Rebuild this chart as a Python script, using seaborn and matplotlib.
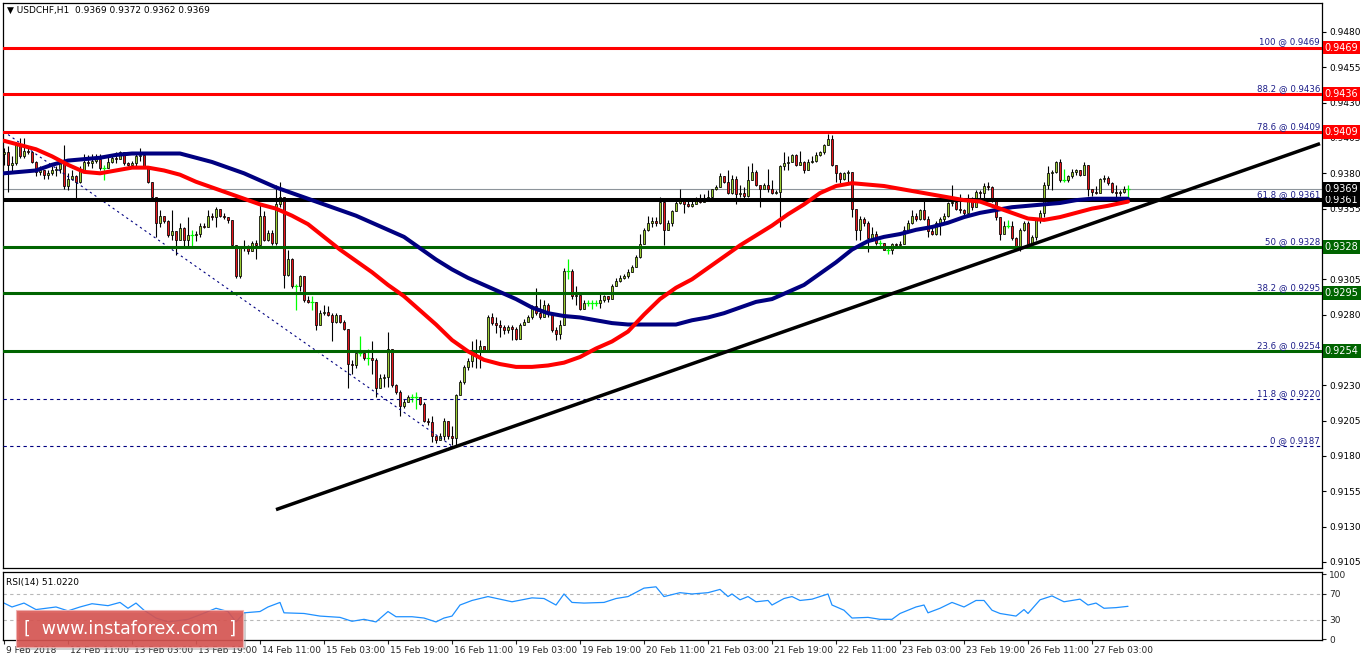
import numpy as np
import pandas as pd
import matplotlib
matplotlib.use('Agg')
import matplotlib.pyplot as plt
import matplotlib.transforms as mtransforms
from matplotlib.patches import Rectangle
import seaborn as sns

sns.set_style('white')
plt.rcParams['font.family'] = ['DejaVu Sans']

# USDCHF H1 candles (open of each bar = previous close)
first_open = 0.9394
closes = [
    0.9395, 0.9386, 0.9387, 0.9400, 0.9392, 0.9396, 0.9395, 0.9388, 0.9381, 0.9382,
    0.9379, 0.9380, 0.9382, 0.9383, 0.9387, 0.9371, 0.9376, 0.9378, 0.9374, 0.9382,
    0.9388, 0.9387, 0.9389, 0.9390, 0.9384, 0.9384, 0.9388, 0.9391, 0.9390, 0.9395,
    0.9387, 0.9386, 0.9387, 0.9392, 0.9393, 0.9385, 0.9374, 0.9363, 0.9345, 0.9350,
    0.9346, 0.9336, 0.9339, 0.9333, 0.9341, 0.9333, 0.9336, 0.9336, 0.9337, 0.9343,
    0.9342, 0.9350, 0.9349, 0.9355, 0.9350, 0.9349, 0.9347, 0.9329, 0.9307, 0.9328,
    0.9327, 0.9325, 0.9331, 0.9329, 0.9350, 0.9333, 0.9338, 0.9331, 0.9358, 0.9363,
    0.9308, 0.9319, 0.9300, 0.9300, 0.9307, 0.9290, 0.9289, 0.9289, 0.9273, 0.9281,
    0.9282, 0.9280, 0.9275, 0.9280, 0.9275, 0.9270, 0.9245, 0.9244, 0.9253, 0.9253,
    0.9249, 0.9249, 0.9248, 0.9228, 0.9235, 0.9236, 0.9256, 0.9230, 0.9225, 0.9215,
    0.9218, 0.9222, 0.9222, 0.9222, 0.9217, 0.9205, 0.9204, 0.9194, 0.9191, 0.9194,
    0.9205, 0.9194, 0.9193, 0.9223, 0.9232, 0.9243, 0.9247, 0.9255, 0.9254, 0.9258,
    0.9255, 0.9278, 0.9274, 0.9273, 0.9271, 0.9269, 0.9271, 0.9270, 0.9263, 0.9273,
    0.9275, 0.9278, 0.9286, 0.9281, 0.9278, 0.9287, 0.9281, 0.9269, 0.9266, 0.9273,
    0.9311, 0.9311, 0.9293, 0.9294, 0.9284, 0.9288, 0.9288, 0.9288, 0.9288, 0.9290,
    0.9293, 0.9291, 0.9300, 0.9304, 0.9306, 0.9307, 0.9310, 0.9314, 0.9321, 0.9330,
    0.9340, 0.9345, 0.9346, 0.9345, 0.9360, 0.9340, 0.9345, 0.9353, 0.9359, 0.9361,
    0.9358, 0.9357, 0.9358, 0.9362, 0.9360, 0.9362, 0.9363, 0.9369, 0.9370, 0.9378,
    0.9374, 0.9366, 0.9376, 0.9365, 0.9366, 0.9364, 0.9375, 0.9381, 0.9372, 0.9369,
    0.9372, 0.9369, 0.9366, 0.9367, 0.9385, 0.9387, 0.9388, 0.9393, 0.9386, 0.9388,
    0.9382, 0.9388, 0.9389, 0.9393, 0.9395, 0.9400, 0.9404, 0.9386, 0.9380, 0.9376,
    0.9380, 0.9381, 0.9355, 0.9340, 0.9348, 0.9345, 0.9334, 0.9337, 0.9331, 0.9331,
    0.9326, 0.9326, 0.9330, 0.9329, 0.9330, 0.9340, 0.9345, 0.9350, 0.9348, 0.9354,
    0.9348, 0.9339, 0.9337, 0.9345, 0.9348, 0.9350, 0.9359, 0.9360, 0.9355, 0.9354,
    0.9352, 0.9361, 0.9356, 0.9367, 0.9366, 0.9371, 0.9370, 0.9361, 0.9349, 0.9337,
    0.9343, 0.9343, 0.9334, 0.9328, 0.9340, 0.9345, 0.9330, 0.9335, 0.9347, 0.9352,
    0.9372, 0.9380, 0.9381, 0.9388, 0.9375, 0.9375, 0.9378, 0.9381, 0.9382, 0.9379,
    0.9386, 0.9369, 0.9367, 0.9366, 0.9376, 0.9377, 0.9373, 0.9367, 0.9366, 0.9367,
    0.9369, 0.9369,
]
highs = [
    0.9398, 0.9399, 0.9392, 0.9402, 0.9405, 0.9405, 0.9398, 0.9396, 0.9389, 0.9385,
    0.9382, 0.9382, 0.9385, 0.9385, 0.9389, 0.9400, 0.9380, 0.9382, 0.9379, 0.9385,
    0.9394, 0.9393, 0.9394, 0.9394, 0.9394, 0.9386, 0.9392, 0.9394, 0.9395, 0.9396,
    0.9395, 0.9388, 0.9389, 0.9395, 0.9398, 0.9391, 0.9383, 0.9374, 0.9363, 0.9354,
    0.9350, 0.9347, 0.9354, 0.9339, 0.9345, 0.9342, 0.9349, 0.9340, 0.9339, 0.9345,
    0.9345, 0.9354, 0.9352, 0.9356, 0.9355, 0.9352, 0.9349, 0.9347, 0.9328, 0.9328,
    0.9333, 0.9329, 0.9332, 0.9333, 0.9359, 0.9353, 0.9340, 0.9340, 0.9372, 0.9374,
    0.9363, 0.9326, 0.9320, 0.9302, 0.9308, 0.9307, 0.9293, 0.9293, 0.9289, 0.9283,
    0.9287, 0.9286, 0.9281, 0.9281, 0.9280, 0.9276, 0.9270, 0.9248, 0.9253, 0.9265,
    0.9253, 0.9256, 0.9261, 0.9249, 0.9238, 0.9238, 0.9268, 0.9256, 0.9231, 0.9227,
    0.9220, 0.9223, 0.9224, 0.9225, 0.9222, 0.9218, 0.9207, 0.9208, 0.9194, 0.9196,
    0.9207, 0.9205, 0.9201, 0.9224, 0.9234, 0.9244, 0.9249, 0.9261, 0.9263, 0.9262,
    0.9258, 0.9280, 0.9281, 0.9278, 0.9276, 0.9273, 0.9273, 0.9273, 0.9271, 0.9274,
    0.9277, 0.9280, 0.9287, 0.9299, 0.9291, 0.9290, 0.9288, 0.9281, 0.9271, 0.9276,
    0.9313, 0.9319, 0.9312, 0.9300, 0.9294, 0.9290, 0.9290, 0.9290, 0.9290, 0.9295,
    0.9294, 0.9293, 0.9302, 0.9306, 0.9308, 0.9309, 0.9312, 0.9315, 0.9322, 0.9337,
    0.9341, 0.9350, 0.9349, 0.9349, 0.9363, 0.9361, 0.9347, 0.9354, 0.9361, 0.9369,
    0.9361, 0.9361, 0.9362, 0.9363, 0.9365, 0.9365, 0.9368, 0.9369, 0.9372, 0.9380,
    0.9378, 0.9382, 0.9379, 0.9378, 0.9372, 0.9370, 0.9385, 0.9387, 0.9382, 0.9372,
    0.9373, 0.9383, 0.9375, 0.9368, 0.9386, 0.9395, 0.9392, 0.9394, 0.9394, 0.9396,
    0.9389, 0.9390, 0.9392, 0.9395, 0.9396, 0.9401, 0.9408, 0.9407, 0.9386, 0.9381,
    0.9381, 0.9382, 0.9381, 0.9355, 0.9350, 0.9349, 0.9346, 0.9342, 0.9339, 0.9333,
    0.9330, 0.9328, 0.9331, 0.9331, 0.9332, 0.9343, 0.9347, 0.9354, 0.9352, 0.9355,
    0.9362, 0.9350, 0.9342, 0.9346, 0.9349, 0.9352, 0.9360, 0.9372, 0.9361, 0.9365,
    0.9355, 0.9365, 0.9363, 0.9368, 0.9368, 0.9373, 0.9374, 0.9371, 0.9361, 0.9349,
    0.9346, 0.9347, 0.9346, 0.9335, 0.9341, 0.9346, 0.9346, 0.9336, 0.9348, 0.9354,
    0.9374, 0.9385, 0.9382, 0.9389, 0.9390, 0.9383, 0.9379, 0.9383, 0.9383, 0.9381,
    0.9388, 0.9385, 0.9369, 0.9371, 0.9377, 0.9379, 0.9378, 0.9374, 0.9372, 0.9368,
    0.9371, 0.9372,
]
lows = [
    0.9386, 0.9367, 0.9380, 0.9386, 0.9391, 0.9391, 0.9394, 0.9387, 0.9378, 0.9379,
    0.9376, 0.9376, 0.9379, 0.9378, 0.9380, 0.9369, 0.9368, 0.9375, 0.9362, 0.9373,
    0.9381, 0.9385, 0.9384, 0.9387, 0.9382, 0.9375, 0.9384, 0.9387, 0.9387, 0.9392,
    0.9386, 0.9385, 0.9385, 0.9385, 0.9389, 0.9384, 0.9373, 0.9361, 0.9335, 0.9342,
    0.9345, 0.9335, 0.9333, 0.9322, 0.9333, 0.9328, 0.9328, 0.9328, 0.9332, 0.9335,
    0.9341, 0.9342, 0.9347, 0.9342, 0.9349, 0.9348, 0.9345, 0.9328, 0.9306, 0.9306,
    0.9325, 0.9323, 0.9326, 0.9319, 0.9329, 0.9332, 0.9332, 0.9329, 0.9329, 0.9356,
    0.9299, 0.9307, 0.9299, 0.9283, 0.9297, 0.9289, 0.9288, 0.9283, 0.9269, 0.9274,
    0.9280, 0.9279, 0.9261, 0.9274, 0.9274, 0.9269, 0.9228, 0.9238, 0.9242, 0.9251,
    0.9248, 0.9244, 0.9238, 0.9222, 0.9228, 0.9229, 0.9229, 0.9229, 0.9224, 0.9208,
    0.9214, 0.9218, 0.9218, 0.9213, 0.9216, 0.9204, 0.9202, 0.9190, 0.9189, 0.9191,
    0.9191, 0.9192, 0.9188, 0.9188, 0.9223, 0.9231, 0.9241, 0.9243, 0.9242, 0.9242,
    0.9254, 0.9255, 0.9273, 0.9267, 0.9264, 0.9266, 0.9267, 0.9262, 0.9262, 0.9264,
    0.9273, 0.9275, 0.9277, 0.9280, 0.9277, 0.9279, 0.9278, 0.9268, 0.9262, 0.9263,
    0.9274, 0.9305, 0.9291, 0.9287, 0.9283, 0.9285, 0.9286, 0.9284, 0.9286, 0.9285,
    0.9289, 0.9289, 0.9291, 0.9301, 0.9303, 0.9305, 0.9306, 0.9310, 0.9314, 0.9320,
    0.9330, 0.9339, 0.9342, 0.9343, 0.9344, 0.9329, 0.9340, 0.9343, 0.9353, 0.9358,
    0.9352, 0.9356, 0.9356, 0.9358, 0.9359, 0.9361, 0.9361, 0.9361, 0.9368, 0.9371,
    0.9373, 0.9365, 0.9365, 0.9358, 0.9363, 0.9362, 0.9363, 0.9375, 0.9371, 0.9356,
    0.9369, 0.9367, 0.9365, 0.9365, 0.9342, 0.9382, 0.9382, 0.9388, 0.9385, 0.9386,
    0.9380, 0.9382, 0.9387, 0.9388, 0.9392, 0.9394, 0.9400, 0.9385, 0.9374, 0.9373,
    0.9375, 0.9373, 0.9349, 0.9333, 0.9333, 0.9343, 0.9324, 0.9332, 0.9329, 0.9327,
    0.9326, 0.9323, 0.9323, 0.9328, 0.9328, 0.9330, 0.9339, 0.9344, 0.9346, 0.9347,
    0.9347, 0.9335, 0.9336, 0.9336, 0.9336, 0.9345, 0.9349, 0.9357, 0.9354, 0.9352,
    0.9349, 0.9353, 0.9354, 0.9356, 0.9361, 0.9361, 0.9368, 0.9360, 0.9347, 0.9333,
    0.9337, 0.9341, 0.9333, 0.9327, 0.9325, 0.9339, 0.9328, 0.9330, 0.9333, 0.9345,
    0.9349, 0.9369, 0.9368, 0.9380, 0.9374, 0.9374, 0.9374, 0.9377, 0.9379, 0.9378,
    0.9380, 0.9364, 0.9364, 0.9365, 0.9366, 0.9374, 0.9372, 0.9366, 0.9363, 0.9364,
    0.9366, 0.9362,
]

# moving averages read every 4 bars
ma_bars = list(range(0, 280, 4)) + [281]
ma_fast = [0.9403, 0.9400, 0.9397, 0.9392, 0.9386, 0.9381, 0.9380, 0.9382, 0.9384, 0.9384,
           0.9382, 0.9379, 0.9374, 0.9370, 0.9366, 0.9362, 0.9358, 0.9355, 0.9350, 0.9344,
           0.9335, 0.9326, 0.9318, 0.9310, 0.9301, 0.9293, 0.9283, 0.9273, 0.9262, 0.9254,
           0.9248, 0.9245, 0.9243, 0.9243, 0.9244, 0.9246, 0.9250, 0.9256, 0.9261, 0.9268,
           0.9280, 0.9291, 0.9299, 0.9305, 0.9313, 0.9321, 0.9329, 0.9336, 0.9343, 0.9351,
           0.9358, 0.9366, 0.9371, 0.9373, 0.9372, 0.9371, 0.9369, 0.9367, 0.9365, 0.9363,
           0.9361, 0.9360, 0.9356, 0.9352, 0.9348, 0.9347, 0.9349, 0.9352, 0.9355, 0.9357,
           0.9360]
ma_slow = [0.9380, 0.9381, 0.9382, 0.9386, 0.9389, 0.9390, 0.9391, 0.9393, 0.9394, 0.9394,
           0.9394, 0.9394, 0.9391, 0.9388, 0.9384, 0.9380, 0.9375, 0.9370, 0.9366, 0.9362,
           0.9358, 0.9354, 0.9350, 0.9345, 0.9340, 0.9335, 0.9327, 0.9319, 0.9312, 0.9306,
           0.9301, 0.9296, 0.9291, 0.9285, 0.9281, 0.9279, 0.9278, 0.9276, 0.9274, 0.9273,
           0.9273, 0.9273, 0.9273, 0.9276, 0.9278, 0.9281, 0.9285, 0.9289, 0.9291, 0.9296,
           0.9301, 0.9309, 0.9317, 0.9326, 0.9332, 0.9335, 0.9337, 0.9340, 0.9342, 0.9345,
           0.9349, 0.9352, 0.9354, 0.9356, 0.9357, 0.9358, 0.9359, 0.9361, 0.9362, 0.9362,
           0.9362]

# RSI(14)
rsi_bars = [0, 2, 5, 8, 13, 16, 19, 22, 26, 29, 31, 33, 35, 38, 41, 46, 49, 53, 56, 58,
            60, 64, 66, 69, 70, 75, 79, 84, 87, 90, 93, 96, 98, 102, 105, 108, 110, 112,
            114, 117, 121, 124, 127, 132, 135, 138, 140, 142, 145, 150, 153, 156, 160,
            163, 165, 169, 172, 176, 179, 181, 182, 184, 186, 188, 191, 192, 195, 197,
            199, 202, 205, 206, 207, 210, 212, 216, 219, 222, 224, 228, 230, 231, 234,
            237, 240, 243, 245, 247, 249, 253, 255, 256, 259, 262, 265, 269, 271, 273,
            275, 278, 281]
rsi_vals = [56, 50, 56, 46, 50, 44, 50, 55, 52, 57, 48, 56, 45, 33, 27, 31, 38, 48, 43, 27,
            41, 43, 50, 57, 41, 40, 36, 34, 28, 31, 27, 43, 35, 35, 33, 27, 33, 36,
            53, 60, 66, 62, 58, 64, 63, 53, 70, 57, 56, 57, 63, 66, 79,
            81, 66, 72, 70, 72, 77, 66, 70, 61, 66, 58, 60, 53, 63, 66,
            60, 62, 68, 70, 53, 45, 33, 34, 31, 31, 40, 50, 53, 41, 48,
            57, 50, 60, 60, 45, 40, 36, 46, 40, 61, 67, 58, 62, 53, 56,
            48, 49, 51]

# fibonacci retracement levels
fib_pct = ['100', '88.2', '78.6', '61.8', '50', '38.2', '23.6', '11.8', '0']
fib_price = [0.9469, 0.9436, 0.9409, 0.9361, 0.9328, 0.9295, 0.9254, 0.9220, 0.9187]
last_price = 0.9369

# drawn lines (bar index, price)
trend_bars = [68, 329]
trend_prices = [0.9142, 0.9401]
diag_bars = [-30, 112]
diag_prices = [0.9469, 0.9187]

price_ticks = [0.9480, 0.9455, 0.9430, 0.9405, 0.9380, 0.9355, 0.9330, 0.9305,
               0.9280, 0.9255, 0.9230, 0.9205, 0.9180, 0.9155, 0.9130, 0.9105]
hidden_ticks = [0.9330, 0.9255]   # covered by the level tags
date_labels = ['9 Feb 2018', '12 Feb 11:00', '13 Feb 03:00', '13 Feb 19:00',
               '14 Feb 11:00', '15 Feb 03:00', '15 Feb 19:00', '16 Feb 11:00',
               '19 Feb 03:00', '19 Feb 19:00', '20 Feb 11:00', '21 Feb 03:00',
               '21 Feb 19:00', '22 Feb 11:00', '23 Feb 03:00', '23 Feb 19:00',
               '26 Feb 11:00', '27 Feb 03:00']
date_bars = [16 * k for k in range(len(date_labels))]

# ---------------------------------------------------------------
W, H = 1362, 661
fig = plt.figure(figsize=(W / 100, H / 100), dpi=100)
fig.patch.set_facecolor('white')
ax = fig.add_axes([3 / W, 1 - 568 / H, 1319 / W, 565 / H])
rax = fig.add_axes([3 / W, 1 - 640 / H, 1319 / W, 68 / H])

n = min(len(closes), len(highs), len(lows))
df = pd.DataFrame({'bar': np.arange(n),
                   'open': ([first_open] + closes[:-1])[:n],
                   'high': highs[:n], 'low': lows[:n], 'close': closes[:n]})
df['top'] = df[['open', 'close', 'high']].max(axis=1)
df['bot'] = df[['open', 'close', 'low']].min(axis=1)
df['doji'] = (df['close'] - df['open']).abs() < 0.00004

norm = df[~df['doji']]
up = norm[norm['close'] > norm['open']]
dn = norm[norm['close'] < norm['open']]
dj = df[df['doji']]

ax.vlines(norm['bar'], norm['bot'], norm['top'], color='black', lw=0.8, zorder=2)
ax.bar(up['bar'], up['close'] - up['open'], bottom=up['open'], width=0.68,
       color='#9acd32', edgecolor='black', linewidth=0.55, zorder=2.2)
ax.bar(dn['bar'], dn['open'] - dn['close'], bottom=dn['close'], width=0.68,
       color='#e8141a', edgecolor='black', linewidth=0.55, zorder=2.2)
ax.vlines(dj['bar'], dj['bot'], dj['top'], color='#00ff00', lw=0.9, zorder=2.3)
ax.hlines(dj['close'], dj['bar'] - 0.45, dj['bar'] + 0.45, color='#00ff00', lw=0.9, zorder=2.3)

# current price line
ax.axhline(last_price, color='#8d949b', lw=0.8, zorder=1.5)

# fibonacci levels
fib_style = {
    '100': ('#ff0000', 2.2, '-'), '88.2': ('#ff0000', 2.2, '-'), '78.6': ('#ff0000', 2.2, '-'),
    '61.8': ('#000000', 2.9, '-'), '50': ('#006400', 2.2, '-'), '38.2': ('#006400', 2.2, '-'),
    '23.6': ('#006400', 2.2, '-'), '11.8': ('#000080', 0.8, (0, (3, 3))),
    '0': ('#000080', 0.8, (0, (3, 3))),
}
for pct, price in zip(fib_pct, fib_price):
    col, lw, ls = fib_style[pct]
    ax.axhline(price, color=col, lw=lw, ls=ls, zorder=4)
    ax.text(0.9985, price + 0.00008, f'{pct} @ {price:.4f}', transform=ax.get_yaxis_transform(),
            ha='right', va='bottom', fontsize=6.2, color='#1c1c88', zorder=6)

# fib diagonal and trend line
ax.plot(diag_bars, diag_prices, color='#000080', lw=0.8, ls=(0, (2, 3)), zorder=3)
ax.plot(trend_bars, trend_prices, color='black', lw=2.5, zorder=4.5, solid_capstyle='butt')

# moving averages
sns.lineplot(x=ma_bars, y=ma_slow, ax=ax, color='#000080', linewidth=2.9, zorder=5)
sns.lineplot(x=ma_bars, y=ma_fast, ax=ax, color='#ff0000', linewidth=2.9, zorder=5.2)

# price tags on the axis
tag_colors = {'100': '#ff0000', '88.2': '#ff0000', '78.6': '#ff0000', '61.8': '#000000',
              '50': '#006400', '38.2': '#006400', '23.6': '#006400'}
for pct, price in zip(fib_pct, fib_price):
    if pct in tag_colors:
        ax.annotate(f'{price:.4f}', xy=(1.0, price), xycoords=('axes fraction', 'data'),
                    xytext=(2, 0), textcoords='offset points', ha='left', va='center',
                    fontsize=7, color='white', annotation_clip=False, zorder=10,
                    bbox=dict(boxstyle='square,pad=0.2', fc=tag_colors[pct], ec='none'))
ax.annotate(f'{last_price:.4f}', xy=(1.0, last_price), xycoords=('axes fraction', 'data'),
            xytext=(2, 0), textcoords='offset points', ha='left', va='center',
            fontsize=7, color='white', annotation_clip=False, zorder=10,
            bbox=dict(boxstyle='square,pad=0.2', fc='black', ec='none'))

ax.set_xlim(-0.25, 329.5)
ax.set_ylim(0.91007, 0.95005)
ax.yaxis.tick_right()
ax.set_yticks(price_ticks)
ax.set_yticklabels(['' if t in hidden_ticks else f'{t:.4f}' for t in price_ticks])
ax.tick_params(axis='y', which='both', right=True, length=3, width=0.8, pad=2,
               labelsize=6.5, colors='black')
ax.set_xticks([])
ax.set_xlabel('')
ax.set_ylabel('')

# RSI panel
rax.axhline(70, color='#b8b8b8', lw=0.8, ls=(0, (3, 3)))
rax.axhline(30, color='#b8b8b8', lw=0.8, ls=(0, (3, 3)))
sns.lineplot(x=rsi_bars, y=rsi_vals, ax=rax, color='#1e90ff', linewidth=0.9)
rax.set_xlim(-0.25, 329.5)
rax.set_ylim(-0.8, 103.8)
rax.yaxis.tick_right()
rax.set_yticks([0, 30, 70, 100])
rax.set_yticklabels(['0', '30', '70', '100'])
rax.tick_params(axis='y', right=True, length=3, width=0.8, pad=2, labelsize=6.5)
rax.set_xticks(date_bars)
rax.set_xticklabels(date_labels)
rax.tick_params(axis='x', bottom=True, length=3, width=0.8, pad=1.5, labelsize=6.5)
shift = mtransforms.ScaledTranslation(1.5 / 72, 0, fig.dpi_scale_trans)
for lab in rax.get_xticklabels():
    lab.set_ha('left')
    lab.set_transform(lab.get_transform() + shift)
rax.set_xlabel('')
rax.set_ylabel('')

for a in (ax, rax):
    a.set_facecolor('white')
    a.grid(False)
    for s in a.spines.values():
        s.set_color('black')
        s.set_linewidth(0.9)

fig.text(7 / W, 1 - 10 / H, '\u25bc USDCHF,H1  0.9369 0.9372 0.9362 0.9369',
         fontsize=6.5, va='center', ha='left', color='black')
fig.text(6 / W, 1 - 582 / H, 'RSI(14) 51.0220', fontsize=6.5, va='center', ha='left',
         color='black')

# watermark
fig.add_artist(Rectangle((19 / W, 1 - 650 / H), 227 / W, 37 / H, transform=fig.transFigure,
                         fc='#7a7a7a', ec='none', alpha=0.35, zorder=20))
fig.add_artist(Rectangle((16 / W, 1 - 647 / H), 227 / W, 37 / H, transform=fig.transFigure,
                         fc='#d9534f', ec='#f0b0b0', lw=0.8, alpha=0.88, zorder=21))
fig.text(130 / W, 1 - 629 / H, '[  www.instaforex.com  ]', fontsize=12.5, color='white',
         ha='center', va='center', zorder=22)

fig.savefig('out.png', dpi=100)
